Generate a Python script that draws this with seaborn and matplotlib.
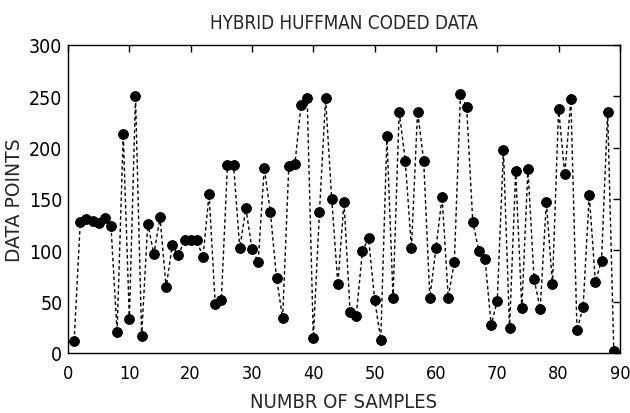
import matplotlib
matplotlib.use("Agg")
import matplotlib.pyplot as plt
import seaborn as sns
import pandas as pd

samples = list(range(1, 90))
values = [12, 128, 130, 129, 127, 131, 124, 20, 213, 33,
          250, 17, 126, 96, 132, 64, 105, 95, 110, 110,
          110, 93, 155, 48, 52, 183, 183, 102, 141, 101,
          89, 180, 137, 73, 34, 182, 184, 242, 248, 15,
          137, 248, 150, 67, 147, 40, 36, 99, 112, 52,
          13, 211, 54, 235, 187, 102, 235, 187, 54, 102,
          152, 54, 89, 252, 240, 128, 99, 92, 27, 51,
          198, 24, 177, 44, 179, 72, 43, 147, 67, 238,
          174, 247, 22, 45, 154, 69, 90, 235, 2]

title = "HYBRID HUFFMAN CODED DATA"
xlabel = "NUMBR OF SAMPLES"
ylabel = "DATA POINTS"
xticks = list(range(0, 91, 10))
yticks = list(range(0, 301, 50))

df = pd.DataFrame({"x": samples, "y": values})

sns.set_style("white")
plt.rcParams['font.family'] = ['DejaVu Sans']
plt.rcParams['font.stretch'] = 'condensed'

fig = plt.figure(figsize=(6.3, 4.14), dpi=100)
ax = fig.add_axes([0.108, 0.145, 0.876, 0.744])

sns.lineplot(data=df, x="x", y="y", ax=ax, color="black", linestyle=(0, (2.5, 2.0)),
             linewidth=1.0, marker="o", markersize=7, markeredgecolor="black",
             markerfacecolor="black")

ax.set_xlim(0, 90)
ax.set_ylim(0, 300)
ax.set_xticks(xticks)
ax.set_yticks(yticks)
ax.tick_params(direction="in", length=5, width=1, top=True, right=True,
               labelsize=14, colors="black")
ax.tick_params(axis="x", pad=8, labelsize=13)
ax.tick_params(axis="y", pad=4)
for s in ax.spines.values():
    s.set_visible(True)
    s.set_color("black")
    s.set_linewidth(1.0)

ax.set_title(title, fontsize=13.5, pad=12)
ax.set_xlabel(xlabel, fontsize=14.5, labelpad=7)
ax.set_ylabel(ylabel, fontsize=13.5, labelpad=4, fontstretch='normal')

fig.savefig("out.png", dpi=100)
